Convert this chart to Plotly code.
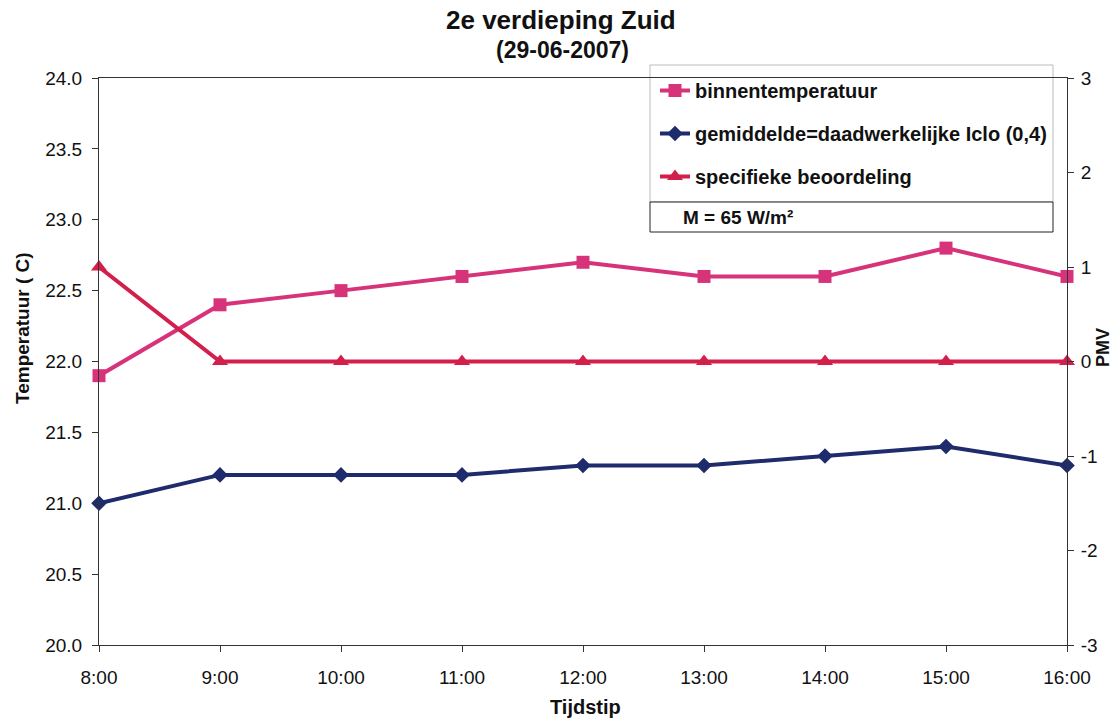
import plotly.graph_objects as go

times = ["8:00", "9:00", "10:00", "11:00", "12:00", "13:00", "14:00", "15:00", "16:00"]
binnentemp = [21.9, 22.4, 22.5, 22.6, 22.7, 22.6, 22.6, 22.8, 22.6]
pmv_gemiddelde = [-1.5, -1.2, -1.2, -1.2, -1.1, -1.1, -1.0, -0.9, -1.1]
pmv_specifiek = [1.0, 0.0, 0.0, 0.0, 0.0, 0.0, 0.0, 0.0, 0.0]

temp_ticks = [20.0, 20.5, 21.0, 21.5, 22.0, 22.5, 23.0, 23.5, 24.0]
pmv_ticks = [-3, -2, -1, 0, 1, 2, 3]
pmv_ticktext = ["-3", "-2", "-1", "0", "1", "2", "3"]

PINK = "#D6337A"
NAVY = "#1E2B6C"
RED = "#D31F4B"
FONT = "Liberation Sans, Arial, sans-serif"

fig = go.Figure()
fig.add_trace(go.Scatter(x=times, y=binnentemp, name="<b>binnentemperatuur</b>", mode="lines+markers",
                         line=dict(color=PINK, width=4), marker=dict(symbol="square", size=13, color=PINK),
                         cliponaxis=False, legendgroup="a"))
fig.add_trace(go.Scatter(x=times, y=pmv_gemiddelde, name="<b>gemiddelde=daadwerkelijke Iclo (0,4)</b>",
                         mode="lines+markers",
                         line=dict(color=NAVY, width=4), marker=dict(symbol="diamond", size=12, color=NAVY),
                         cliponaxis=False, yaxis="y2", legendgroup="b"))
fig.add_trace(go.Scatter(x=times, y=pmv_specifiek, name="<b>specifieke beoordeling</b>", mode="lines+markers",
                         line=dict(color=RED, width=4), marker=dict(symbol="triangle-up", size=14, color=RED),
                         cliponaxis=False, yaxis="y2", legendgroup="c"))

L, R, T, B = 99, 52, 78, 76
W, H = 1119, 721
pw, ph = W - L - R, H - T - B

def px(xpix):
    return (xpix - L) / pw

def py(ypix):
    return (H - B - ypix) / ph

axis_common = dict(showline=True, linecolor="#333", linewidth=1, ticks="outside", ticklen=6,
                   tickcolor="#333", showgrid=False, zeroline=False, tickfont=dict(size=19, color="#111"))

fig.update_layout(
    width=W, height=H,
    margin=dict(l=L, r=R, t=T, b=B),
    paper_bgcolor="white", plot_bgcolor="white",
    font=dict(family=FONT, color="#111", size=19),
    showlegend=True,
    legend=dict(x=px(655), y=py(71), xanchor="left", yanchor="top", bgcolor="rgba(0,0,0,0)",
                borderwidth=0, font=dict(size=20, family=FONT, color="#111"), tracegroupgap=14,
                traceorder="grouped", itemwidth=30),
    xaxis=dict(type="category", range=[0, 8], mirror=True, ticklabelstandoff=9, **axis_common),
    yaxis=dict(range=[20, 24], tickvals=temp_ticks, tickformat=".1f", ticklabelstandoff=6, **axis_common),
    yaxis2=dict(range=[-3, 3], tickvals=pmv_ticks, ticktext=pmv_ticktext, overlaying="y", side="right",
                ticklabelstandoff=3, **axis_common),
    shapes=[
        dict(type="rect", xref="paper", yref="paper", x0=px(650), x1=px(1053), y0=py(202), y1=py(65),
             line=dict(color="#bbbbbb", width=1), fillcolor="white", layer="below"),
        dict(type="rect", xref="paper", yref="paper", x0=px(650), x1=px(1053), y0=py(232), y1=py(202),
             line=dict(color="#222", width=1), fillcolor="white", layer="below"),
    ],
    annotations=[
        dict(text="<b>2e verdieping Zuid</b>", xref="paper", yref="paper", x=px(561), y=py(20),
             xanchor="center", yanchor="middle", showarrow=False, font=dict(size=26)),
        dict(text="<b>(29-06-2007)</b>", xref="paper", yref="paper", x=px(562), y=py(50),
             xanchor="center", yanchor="middle", showarrow=False, font=dict(size=23)),
        dict(text="<b>M = 65 W/m²</b>", xref="paper", yref="paper", x=px(681), y=py(217),
             xanchor="left", yanchor="middle", showarrow=False, font=dict(size=19)),
        dict(text="<b>Temperatuur ( C)</b>", xref="paper", yref="paper", x=px(22), y=py(328),
             xanchor="center", yanchor="middle", textangle=-90, showarrow=False, font=dict(size=19)),
        dict(text="<b>PMV</b>", xref="paper", yref="paper", x=px(1103), y=py(348),
             xanchor="center", yanchor="middle", textangle=-90, showarrow=False, font=dict(size=18)),
        dict(text="<b>Tijdstip</b>", xref="paper", yref="paper", x=px(585), y=py(707),
             xanchor="center", yanchor="middle", showarrow=False, font=dict(size=20)),
    ],
)

fig.write_html("out.html")
